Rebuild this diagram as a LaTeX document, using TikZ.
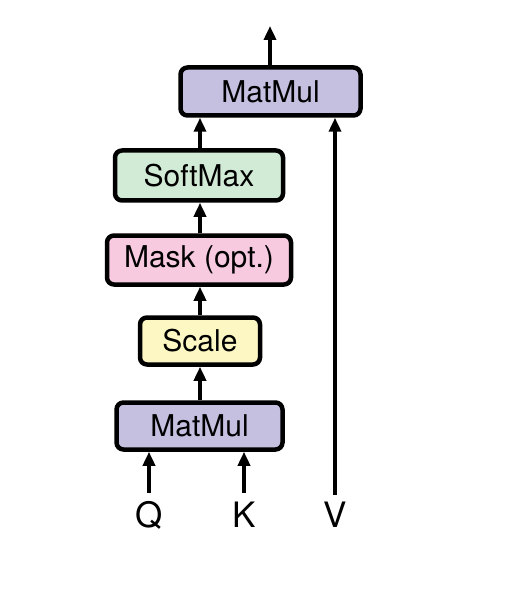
\documentclass[tikz,border=0pt]{standalone}
\usepackage{fontspec}
\setmainfont{TeX Gyre Heros}
\usetikzlibrary{arrows.meta}
\definecolor{cPurple}{HTML}{C5BFE0}
\definecolor{cGreen}{HTML}{D2EBD6}
\definecolor{cPink}{HTML}{F7CAE0}
\definecolor{cYellow}{HTML}{FDF8C3}
\tikzset{
  opbox/.style={draw=black, line width=4.5pt, rounded corners=7pt, inner sep=0pt,
    font=\fontsize{30}{34}\selectfont},
  arr/.style={line width=3.6pt, -{Triangle[width=12pt,length=14pt]}},
  lbl/.style={inner sep=0pt, font=\fontsize{35}{40}\selectfont}
}
\begin{document}
\begin{tikzpicture}[x=1pt,y=-1pt]
\useasboundingbox (0,0) rectangle (506,612);
\node[opbox, fill=cPurple, minimum width=180pt, minimum height=48pt] (mm2) at (270.5,91.5) {MatMul};
\node[opbox, fill=cGreen, minimum width=168pt, minimum height=50pt] (sm) at (199,175.5) {SoftMax};
\node[opbox, fill=cPink, minimum width=184pt, minimum height=49pt] (mask) at (199,260) {Mask (opt.)};
\node[opbox, fill=cYellow, minimum width=120pt, minimum height=47pt] (scale) at (200,341) {Scale};
\node[opbox, fill=cPurple, minimum width=166pt, minimum height=47pt] (mm1) at (199.5,426) {MatMul};
\node[lbl] (Q) at (149,515) {Q};
\node[lbl] (K) at (244,515) {K};
\node[lbl] (V) at (335,515) {V};
\coordinate (qs) at (149,493);
\coordinate (ks) at (244,493);
\coordinate (vs) at (335,495);
\coordinate (out) at (270,26);
\draw[arr] (qs) -- (qs |- mm1.south);
\draw[arr] (ks) -- (ks |- mm1.south);
\draw[arr] (vs) -- (vs |- mm2.south);
\draw[arr] (mm1.north -| 200,0) -- (scale.south -| 200,0);
\draw[arr] (scale.north -| 200,0) -- (mask.south -| 200,0);
\draw[arr] (mask.north -| 200,0) -- (sm.south -| 200,0);
\draw[arr] (sm.north -| 200,0) -- (mm2.south -| 200,0);
\draw[arr] (mm2.north -| 270,0) -- (out);
\end{tikzpicture}
\end{document}
